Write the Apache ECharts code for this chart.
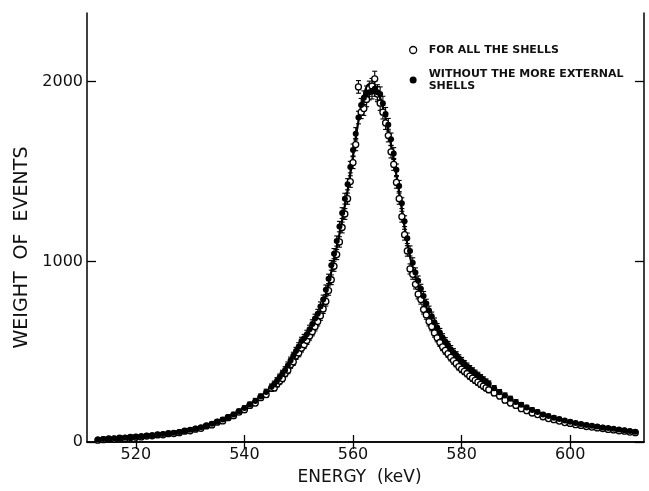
<!DOCTYPE html>
<html>
<head>
<meta charset="utf-8">
<script src="https://cdn.jsdelivr.net/npm/echarts@6/dist/echarts.min.js"></script>
<style>
  html, body { margin: 0; background: #fff; }
  #main { width: 649px; height: 491px; }
</style>
</head>
<body>
<div id="main"></div>
<script>
// measured points (keV)
var energy = [
  513, 514, 515, 516, 517, 518, 519, 520, 521, 522, 523, 524, 525, 526, 527, 528, 529, 530, 531, 532,
  533, 534, 535, 536, 537, 538, 539, 540, 541, 542, 543, 544, 545,
  545.5, 546, 546.5, 547, 547.5, 548, 548.5, 549, 549.5, 550, 550.5, 551, 551.5, 552, 552.5, 553, 553.5, 554, 554.5, 555,
  555.5, 556, 556.5, 557, 557.5, 558, 558.5, 559, 559.5, 560, 560.5, 561, 561.5, 562, 562.5, 563, 563.5, 564, 564.5, 565,
  565.5, 566, 566.5, 567, 567.5, 568, 568.5, 569, 569.5, 570, 570.5, 571, 571.5, 572, 572.5, 573, 573.5, 574, 574.5, 575,
  575.5, 576, 576.5, 577, 577.5, 578, 578.5, 579, 579.5, 580, 580.5, 581, 581.5, 582, 582.5, 583, 583.5, 584, 584.5, 585,
  586, 587, 588, 589, 590, 591, 592, 593, 594, 595, 596, 597, 598, 599, 600, 601, 602, 603, 604, 605,
  606, 607, 608, 609, 610, 611, 612
];
// open circles
var allShells = [
  10, 13, 17, 16, 21, 20, 25, 27, 28, 33, 34, 39, 40, 46, 47, 52, 60, 62, 71, 76,
  89, 95, 110, 117, 135, 146, 166, 179, 203, 216, 246, 263, 298,
  300, 322, 338, 352, 380, 398, 428, 445, 478, 494, 520, 540, 563, 588, 612, 640, 668, 700, 738, 780,
  840, 900, 975, 1040, 1110, 1190, 1265, 1350, 1445, 1550, 1650, 1970, 1830, 1850, 1900, 1960, 1975, 2015, 1930, 1880,
  1830, 1770, 1700, 1610, 1540, 1440, 1350, 1250, 1150, 1060, 960, 930, 875, 820, 790, 735, 705, 668, 640, 605,
  578, 552, 528, 508, 490, 470, 452, 436, 418, 404, 392, 380, 366, 354, 342, 332, 320, 310, 300, 290,
  272, 255, 232, 216, 203, 185, 174, 161, 152, 140, 130, 124, 116, 108, 103, 96, 92, 86, 83, 78,
  75, 70, 67, 62, 60, 55, 52
];
// filled circles
var withoutExternal = [
  14, 16, 18, 21, 22, 25, 26, 29, 32, 34, 38, 40, 44, 47, 51, 56, 61, 68, 74, 82,
  90, 101, 112, 125, 138, 153, 170, 188, 208, 228, 252, 278, 306,
  322, 340, 360, 380, 400, 425, 452, 478, 505, 530, 560, 575, 598, 625, 655, 685, 712, 752, 790, 845,
  905, 980, 1045, 1115, 1195, 1270, 1350, 1430, 1525, 1620, 1710, 1800, 1870, 1910, 1935, 1940, 1945, 1960, 1940, 1930,
  1880, 1820, 1760, 1680, 1600, 1510, 1420, 1325, 1225, 1130, 1060, 995, 940, 895, 850, 810, 768, 730, 698, 665,
  635, 608, 580, 558, 538, 515, 498, 482, 465, 450, 434, 420, 406, 395, 382, 370, 358, 346, 334, 323,
  298, 276, 258, 240, 222, 206, 192, 178, 166, 153, 144, 135, 127, 119, 112, 106, 100, 95, 90, 86,
  81, 77, 73, 69, 65, 61, 57
];
// half length of the error bars
var errBar = [
  5, 5, 5, 5, 6, 6, 6, 6, 6, 7, 7, 7, 7, 8, 8, 8, 8, 9, 9, 9,
  10, 10, 11, 11, 12, 12, 13, 13, 14, 14, 15, 15, 16,
  16, 17, 17, 18, 18, 19, 19, 20, 20, 21, 21, 22, 22, 23, 23, 24, 24, 25, 25, 26,
  26, 27, 28, 28, 29, 30, 30, 31, 32, 33, 34, 35, 36, 38, 40, 42, 42, 42, 42, 40,
  38, 36, 35, 34, 33, 32, 31, 30, 30, 29, 28, 27, 26, 26, 25, 25, 24, 24, 23, 23,
  22, 22, 21, 21, 20, 20, 20, 19, 19, 19, 18, 18, 18, 17, 17, 17, 16, 16, 16, 16,
  15, 15, 14, 14, 13, 13, 12, 12, 12, 11, 11, 11, 10, 10, 10, 9, 9, 9, 9, 8,
  8, 8, 8, 7, 7, 7, 7
];
// fitted curve
var fitE = [
  513, 514, 515, 516, 517, 518, 519, 520, 521, 522, 523, 524, 525, 526, 527, 528, 529, 530, 531, 532,
  533, 534, 535, 536, 537, 538, 539, 540, 541, 542, 543, 544, 545, 546, 547, 548, 549, 550, 551, 552,
  553, 554, 555, 556, 557, 558, 559, 560, 561, 562, 563, 564, 565, 566, 567, 568, 569, 570, 571, 572,
  573, 574, 575, 576, 577, 578, 579, 580, 581, 582, 583, 584, 585, 586, 587, 588, 589, 590, 591, 592,
  593, 594, 595, 596, 597, 598, 599, 600, 601, 602, 603, 604, 605, 606, 607, 608, 609, 610, 611, 612
];
var fitW = [
  12, 14, 16, 18, 20, 22, 24, 26, 29, 32, 35, 38, 41, 44, 48, 53, 58, 64, 70, 78,
  87, 97, 108, 120, 133, 148, 164, 182, 200, 220, 243, 268, 295, 328, 365, 410, 460, 510, 555, 605,
  660, 725, 815, 945, 1080, 1230, 1395, 1585, 1780, 1925, 1985, 1975, 1910, 1795, 1650, 1480, 1290, 1100, 965, 865,
  780, 705, 640, 583, 535, 495, 460, 428, 400, 374, 350, 328, 306, 285, 265, 246, 228, 211, 196, 182,
  168, 156, 146, 137, 129, 121, 114, 107, 101, 96, 91, 86, 82, 78, 74, 70, 66, 62, 58, 54
];
var xTicks = [520, 540, 560, 580, 600];
var yTicks = [0, 1000, 2000];

var nameAll = 'FOR ALL THE SHELLS';
var nameWithout = 'WITHOUT THE MORE EXTERNAL\nSHELLS';

function pairs(vals) {
  return energy.map(function (e, i) { return [e, vals[i]]; });
}

function errorSeries(id, vals) {
  return {
    type: 'custom',
    id: id,
    silent: true,
    z: 2,
    encode: { x: 0, y: [1, 2] },
    data: energy.map(function (e, i) { return [e, vals[i] - errBar[i], vals[i] + errBar[i]]; }),
    renderItem: function (params, api) {
      var lo = api.coord([api.value(0), api.value(1)]);
      var hi = api.coord([api.value(0), api.value(2)]);
      var w = 2.5;
      var st = { stroke: '#000', lineWidth: 1.1 };
      return {
        type: 'group',
        children: [
          { type: 'line', shape: { x1: lo[0], y1: lo[1], x2: hi[0], y2: hi[1] }, style: st },
          { type: 'line', shape: { x1: lo[0] - w, y1: lo[1], x2: lo[0] + w, y2: lo[1] }, style: st },
          { type: 'line', shape: { x1: hi[0] - w, y1: hi[1], x2: hi[0] + w, y2: hi[1] }, style: st }
        ]
      };
    }
  };
}

var axisFont = 'DejaVu Sans';
var frame = { show: true, lineStyle: { color: '#000', width: 1.5 } };
var plain = function (v) { return String(v); };

var myChart = echarts.init(document.getElementById('main'));
var option = {
  backgroundColor: '#fff',
  animation: false,
  grid: { left: 87, right: 5, top: 13, bottom: 45 },
  legend: {
    orient: 'vertical',
    left: 404,
    top: 39,
    itemWidth: 7,
    itemHeight: 7,
    itemGap: 6,
    selectedMode: false,
    textStyle: { fontFamily: axisFont, fontSize: 11, fontWeight: 'bold', color: '#111', lineHeight: 12, padding: [0, 0, 0, 7] },
    data: [
      { name: nameAll, icon: 'circle', itemStyle: { color: '#fff', borderColor: '#000', borderWidth: 1.3 } },
      { name: nameWithout, icon: 'circle', itemStyle: { color: '#000' }, textStyle: { padding: [12, 0, 0, 7] } }
    ]
  },
  xAxis: [{
    type: 'value',
    min: 511,
    max: 613.6,
    position: 'bottom',
    name: 'ENERGY  (keV)',
    nameLocation: 'middle',
    nameGap: 27,
    nameTextStyle: { fontFamily: axisFont, fontSize: 17, color: '#111', padding: [0, 12, 0, 0] },
    axisLine: frame,
    axisTick: { inside: true, length: 7, customValues: xTicks, lineStyle: { color: '#000', width: 1.3 } },
    axisLabel: { customValues: xTicks, formatter: plain, margin: 5, fontFamily: axisFont, fontSize: 16, color: '#111' },
    splitLine: { show: false }
  }, {
    type: 'value',
    min: 511,
    max: 613.6,
    position: 'top',
    axisLine: frame,
    axisTick: { inside: true, length: 7, customValues: xTicks, lineStyle: { color: '#000', width: 1.3 } },
    axisLabel: { show: false },
    splitLine: { show: false }
  }],
  yAxis: [{
    type: 'value',
    min: 0,
    max: 2380,
    position: 'left',
    name: 'WEIGHT  OF  EVENTS',
    nameLocation: 'middle',
    nameGap: 42,
    nameTextStyle: { fontFamily: axisFont, fontSize: 19, color: '#111', padding: [0, 40, 0, 0] },
    axisLine: frame,
    axisTick: { inside: true, length: 9, customValues: yTicks, lineStyle: { color: '#000', width: 1.3 } },
    axisLabel: { customValues: yTicks, formatter: plain, margin: 4, fontFamily: axisFont, fontSize: 16, color: '#111' },
    splitLine: { show: false }
  }, {
    type: 'value',
    min: 0,
    max: 2380,
    position: 'right',
    axisLine: frame,
    axisTick: { inside: true, length: 9, customValues: yTicks, lineStyle: { color: '#000', width: 1.3 } },
    axisLabel: { show: false },
    splitLine: { show: false }
  }],
  series: [
    errorSeries('errAll', allShells),
    errorSeries('errWithout', withoutExternal),
    {
      type: 'line',
      id: 'fit',
      data: fitE.map(function (e, i) { return [e, fitW[i]]; }),
      smooth: 0.4,
      showSymbol: false,
      silent: true,
      z: 3,
      lineStyle: { color: '#000', width: 2.2 }
    },
    {
      type: 'scatter',
      name: nameAll,
      data: pairs(allShells),
      symbol: 'circle',
      symbolSize: 6,
      z: 4,
      itemStyle: { color: '#fff', borderColor: '#000', borderWidth: 1.3, opacity: 1 }
    },
    {
      type: 'scatter',
      name: nameWithout,
      data: pairs(withoutExternal),
      symbol: 'circle',
      symbolSize: 6,
      z: 4,
      itemStyle: { color: '#000', opacity: 1 }
    }
  ]
};
myChart.setOption(option);
</script>
</body>
</html>
